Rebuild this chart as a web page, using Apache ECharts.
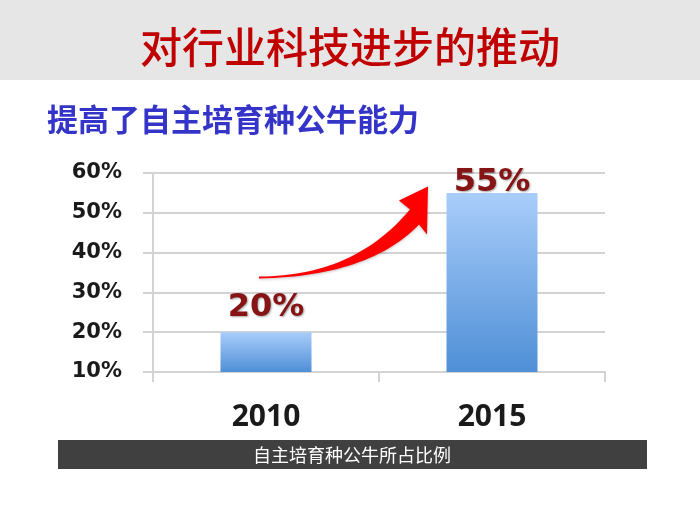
<!DOCTYPE html>
<html><head><meta charset="utf-8">
<script src="https://cdn.jsdelivr.net/npm/echarts@6/dist/echarts.min.js"></script>
<style>html,body{margin:0;padding:0;background:#fff}#c{width:700px;height:525px}</style>
</head><body><div id="c"></div>
<script>
const titleText = '对行业科技进步的推动';
const subtitleText = '提高了自主培育种公牛能力';
const footerText = '自主培育种公牛所占比例';
const categories = ['2010', '2015'];
const shareValues = [20, 55];
const yMin = 10, yMax = 60, yStep = 10;

const chart = echarts.init(document.getElementById('c'), null, {renderer: 'canvas'});
const gridColor = '#d3d3d3';

const option = {
  backgroundColor: '#ffffff',
  animation: false,
  title: [
    {text: titleText, left: 'center', top: 21,
     textStyle: {fontFamily: 'Noto Sans CJK SC', fontSize: 42, fontWeight: 500, color: '#c00000'}},
    {text: subtitleText, left: 42, top: 99,
     textStyle: {fontFamily: 'Noto Sans CJK SC', fontSize: 31, fontWeight: 'bold', color: '#3434c8'}}
  ],
  grid: {left: 153, right: 95, top: 173, bottom: 153},
  xAxis: {
    type: 'category', data: categories,
    axisLine: {lineStyle: {color: gridColor, width: 2}},
    axisTick: {show: true, length: 10, lineStyle: {color: gridColor, width: 2}},
    axisLabel: {margin: 30, fontFamily: 'Open Sans', fontWeight: 'bold', fontSize: 30, color: '#1a1a1a'}
  },
  yAxis: {
    type: 'value', min: yMin, max: yMax, interval: yStep,
    axisLine: {show: true, lineStyle: {color: gridColor, width: 2}},
    axisTick: {show: true, length: 10, lineStyle: {color: gridColor, width: 2}},
    splitLine: {lineStyle: {color: gridColor, width: 2}},
    axisLabel: {margin: 31, formatter: v => v + '%', fontFamily: 'DejaVu Sans', fontWeight: 'bold', fontSize: 21, color: '#1a1a1a'}
  },
  series: [{
    type: 'bar', barWidth: 91,
    data: shareValues.map((v, i) => ({value: v, label: {distance: i === 1 ? -6 : 9}})),
    itemStyle: {color: new echarts.graphic.LinearGradient(0, 0, 0, 1, [
      {offset: 0, color: '#a9cdfa'}, {offset: 1, color: '#4f8fd7'}])},
    label: {show: true, position: 'top', formatter: '{c}%', fontFamily: 'DejaVu Sans', fontWeight: 'bold',
            fontSize: 32, color: '#861414', textShadowColor: 'rgba(0,0,0,0.35)', textShadowBlur: 2,
            textShadowOffsetX: 1, textShadowOffsetY: 1}
  }],
  graphic: [
    {id: 'band', type: 'rect', z: -10, shape: {x: 0, y: 0, width: 700, height: 80}, style: {fill: '#e6e6e6'}},
    {id: 'footerBg', type: 'rect', shape: {x: 58, y: 440, width: 589, height: 29}, style: {fill: '#404040'}},
    {id: 'footerText', type: 'text', x: 352, y: 455, style: {text: footerText, fill: '#ffffff', fontSize: 18,
      fontFamily: 'Noto Sans CJK SC', align: 'center', verticalAlign: 'middle'}}
  ]
};
chart.setOption(option);

// curved arrow annotation anchored to the data coordinates
const anchor = chart.convertToPixel({gridIndex: 0}, [0, 34]);
const ox = anchor[0] - 7, oy = anchor[1];
function quad(p0, c, p1, n) {
  const out = [];
  for (let k = 0; k <= n; k++) {
    const t = k / n, a = (1 - t) * (1 - t), b = 2 * (1 - t) * t, d = t * t;
    out.push([ox + a * p0[0] + b * c[0] + d * p1[0], oy + a * p0[1] + b * c[1] + d * p1[1]]);
  }
  return out;
}
const arrowPts = [].concat(
  quad([0, 0], [95, 0], [151, -67], 30),
  [[ox + 140, oy - 76], [ox + 169, oy - 90], [ox + 168, oy - 42]],
  quad([160, -52], [110, 0], [0, 2], 30)
);
chart.setOption({graphic: [{id: 'arrow', type: 'polygon', z: 100, shape: {points: arrowPts},
  style: {fill: '#ff0000', shadowColor: 'rgba(0,0,0,0.25)', shadowBlur: 3, shadowOffsetY: 1}}]});
</script></body></html>
